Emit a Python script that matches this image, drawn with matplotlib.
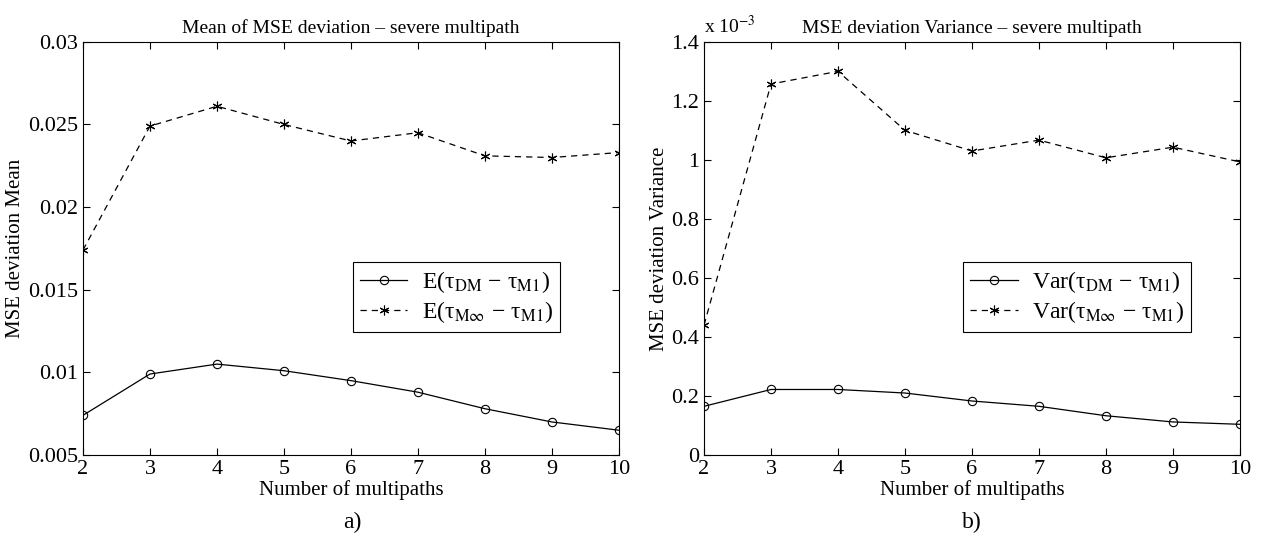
import matplotlib
matplotlib.use("Agg")
import matplotlib.pyplot as plt

plt.rcParams["font.family"] = ["Liberation Serif", "DejaVu Serif"]
plt.rcParams["mathtext.fontset"] = "stix"

multipaths = [2, 3, 4, 5, 6, 7, 8, 9, 10]

# a) mean of MSE deviation
mean_dm = [0.0074, 0.0099, 0.0105, 0.0101, 0.0095, 0.0088, 0.0078, 0.0070, 0.0065]
mean_minf = [0.0174, 0.0249, 0.0261, 0.0250, 0.0240, 0.0245, 0.0231, 0.0230, 0.0233]

# b) variance of MSE deviation, in units of 1e-3
var_dm = [0.165, 0.222, 0.222, 0.210, 0.183, 0.165, 0.133, 0.112, 0.104]
var_minf = [0.44, 1.257, 1.30, 1.10, 1.03, 1.067, 1.007, 1.043, 0.993]

ASTER = (6, 2, 0)

fig = plt.figure(figsize=(12.61, 5.48), dpi=100)
ax1 = fig.add_axes([0.0658, 0.1697, 0.425, 0.754])
ax2 = fig.add_axes([0.5583, 0.1697, 0.425, 0.754])


def style(ax):
    ax.tick_params(direction="in", top=True, right=True, labelsize=16, length=5, width=0.8)
    for s in ax.spines.values():
        s.set_linewidth(0.8)
    ax.set_xlim(2, 10)
    ax.set_xticks(multipaths)
    ax.set_xlabel("Number of multipaths", fontsize=15, labelpad=1)


def legend(ax, x):
    leg = ax.legend(loc="center right", bbox_to_anchor=(x, 0.382), fontsize=17,
                    frameon=True, fancybox=False, edgecolor="k", framealpha=1,
                    handlelength=2.0, borderpad=0.3, labelspacing=0.15,
                    handletextpad=0.6)
    leg.get_frame().set_linewidth(0.8)


ax1.plot(multipaths, mean_dm, "k-o", lw=0.9, ms=6, mfc="none", mew=0.8,
         label=r"E(τ$_{\mathrm{DM}}$ − τ$_{\mathrm{M1}}$)")
ax1.plot(multipaths, mean_minf, "k--", marker=ASTER, lw=0.9, ms=7, mew=0.8, dashes=(5, 4),
         label=r"E(τ$_{\mathrm{M\infty}}$ − τ$_{\mathrm{M1}}$)")
style(ax1)
ax1.set_ylim(0.005, 0.03)
ax1.set_yticks([0.005, 0.01, 0.015, 0.02, 0.025, 0.03])
ax1.set_yticklabels(["0.005", "0.01", "0.015", "0.02", "0.025", "0.03"])
ax1.set_ylabel("MSE deviation Mean", fontsize=15, labelpad=2)
ax1.set_title("Mean of MSE deviation \u2013 severe multipath", fontsize=14, pad=6)
legend(ax1, 0.912)

ax2.plot(multipaths, var_dm, "k-o", lw=0.9, ms=6, mfc="none", mew=0.8,
         label=r"Var(τ$_{\mathrm{DM}}$ − τ$_{\mathrm{M1}}$)")
ax2.plot(multipaths, var_minf, "k--", marker=ASTER, lw=0.9, ms=7, mew=0.8, dashes=(5, 4),
         label=r"Var(τ$_{\mathrm{M\infty}}$ − τ$_{\mathrm{M1}}$)")
style(ax2)
ax2.set_ylim(0, 1.4)
ax2.set_yticks([0, 0.2, 0.4, 0.6, 0.8, 1.0, 1.2, 1.4])
ax2.set_yticklabels(["0", "0.2", "0.4", "0.6", "0.8", "1", "1.2", "1.4"])
ax2.set_ylabel("MSE deviation Variance", fontsize=15, labelpad=2)
ax2.set_title("MSE deviation Variance \u2013 severe multipath", fontsize=14, pad=6)
ax2.text(0.0, 1.012, r"x 10$^{-3}$", transform=ax2.transAxes, fontsize=14,
         ha="left", va="bottom")
legend(ax2, 0.931)

fig.text(352 / 1261, 1 - 522 / 548, "a)", fontsize=17, ha="center", va="center")
fig.text(972 / 1261, 1 - 522 / 548, "b)", fontsize=17, ha="center", va="center")

fig.savefig("out.png", dpi=100)
